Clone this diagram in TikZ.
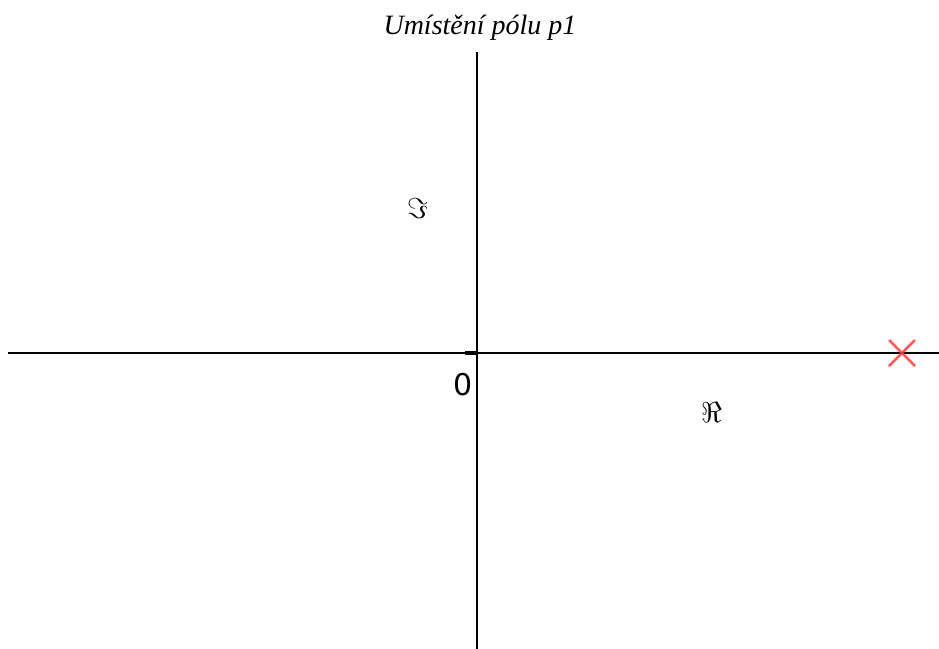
\documentclass[tikz,border=0pt]{standalone}
\usepackage{fontspec}
\setmainfont{Liberation Serif}
\newfontfamily\labelfont{DejaVu Sans}
\usepackage{tikz}
\usetikzlibrary{positioning,calc}
\definecolor{polered}{HTML}{FF4040}
\begin{document}
\begin{tikzpicture}[x=0.5pt,y=-0.5pt,
   ax/.style={draw=black,line width=1pt},
   pole/.style={draw=polered,line width=1.3pt,opacity=0.85},
   lbl/.style={inner sep=0pt,font=\fontsize{15.5}{18}\selectfont}]
  \useasboundingbox (0,0) rectangle (939,649);
  \node[font=\itshape\fontsize{14}{16}\selectfont] (title) at (480,28) {Umístění pólu p1};
  \coordinate (wl) at (8,353);   \coordinate (wr) at (939,353);
  \coordinate (nt) at (477,52);  \coordinate (nb) at (477,649);
  \coordinate (o) at (477,353);  \coordinate (ot) at (465,353);
  \draw[ax] (wl) -- (wr);
  \draw[ax] (nt) -- (nb);
  \draw[line width=2pt] (ot) -- (o);
  \node[font=\labelfont\fontsize{15}{17}\selectfont,inner sep=0pt] (zero) at (463,385) {0};
  \node[lbl] (im) at (418,208) {$\Im$};
  \node[lbl] (re) at (712,412) {$\Re$};
  \coordinate (p1) at (902,353);
  \draw[pole] ($(p1)+(-13,-13)$) -- ($(p1)+(13,13)$)
              ($(p1)+(-13,13)$) -- ($(p1)+(13,-13)$);
\end{tikzpicture}
\end{document}
